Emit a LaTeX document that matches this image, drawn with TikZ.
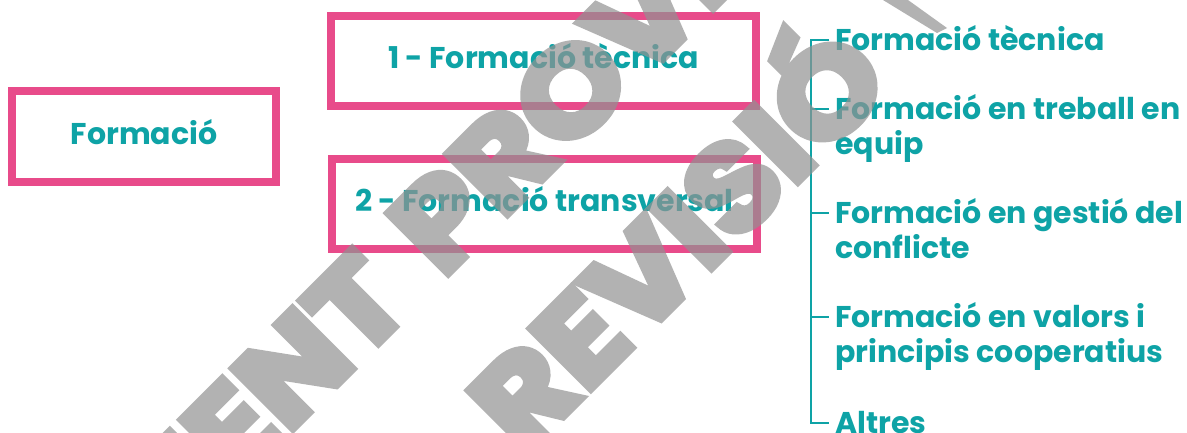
\documentclass[tikz,border=0pt]{standalone}
\usepackage{fontspec}
\setmainfont{Poppins}
\newfontfamily\wmfont{Poppins Bold}[FakeBold=6]
\usetikzlibrary{calc}
\pgfdeclarelayer{background}
\pgfsetlayers{background,main}
\definecolor{pinkc}{RGB}{232,75,138}
\definecolor{tealc}{RGB}{14,163,166}
\definecolor{wmgray}{RGB}{146,146,146}
\begin{document}
\begin{tikzpicture}[x=1pt,y=-1pt,
  box/.style={draw=pinkc, line width=8pt, text=tealc, font=\bfseries\fontsize{30}{36}\selectfont, text height=21pt, text depth=6pt, inner sep=0pt},
  conn/.style={draw=tealc, line width=2.5pt},
  item/.style={anchor=base west, text=tealc, font=\bfseries\fontsize{30}{35}\selectfont, align=left, inner sep=0pt},
  wm/.style={text=wmgray, font=\wmfont\fontsize{122}{122}\selectfont, rotate=45, xscale=1.1, inner sep=0pt}]
\useasboundingbox (0,0) rectangle (1187,432);
\clip (0,0) rectangle (1187,432);
\fill[white] (0,0) rectangle (1187,432);
% boxes
\node[box, minimum width=264pt, minimum height=91pt] (form) at (144,136.5) {Formació};
\node[box, minimum width=425pt, minimum height=90pt] (box1) at (543.5,61) {1 - Formació tècnica};
\node[box, minimum width=425pt, minimum height=90pt] (box2) at (544.5,204) {2 - Formació transversal};
% connectors
\coordinate (j1) at (302,136.5);
\coordinate (b2l) at ($(box2.west)+(0,-4)$);
\coordinate (b2r) at ($(box2.east)+(0,9)$);
\coordinate (t1) at (811,40);
\coordinate (t2) at (811,109);
\coordinate (t3) at (811,213);
\coordinate (t4) at (811,317);
\coordinate (t5) at (811,423);
\begin{pgfonlayer}{background}
\draw[conn] (form.east) -- (j1);
\draw[conn] (box1.west) -| (j1) |- (b2l);
\draw[conn] (b2r) -- (t3);
\end{pgfonlayer}
\draw[conn] ($(t1)+(18,0)$) -- (t1) -- (t5) -- ($(t5)+(18,0)$);
\draw[conn] (t2) -- ++(18,0);
\draw[conn] (t3) -- ++(18,0);
\draw[conn] (t4) -- ++(18,0);
% items (base anchor = last line)
\node[item] (i1) at ($(t1)+(24,10.5)$) {Formació tècnica};
\node[item] (i2) at ($(t2)+(24,45.5)$) {Formació en treball en\\equip};
\node[item] (i3) at ($(t3)+(24,45.5)$) {Formació en gestió del\\conflicte};
\node[item] (i4) at ($(t4)+(24,45.5)$) {Formació en valors i\\principis cooperatius};
\node[item] (i5) at ($(t5)+(24,10.5)$) {Altres};
% watermark
\begin{scope}[transparency group, opacity=0.7]
\node[wm, anchor=base east] (wmA1) at (415,307) {DOCUMENT};
\node[wm, anchor=base west] (wmA2) at (442.5,279.5) {PROVISIONAL};
\node[wm, anchor=base east] (wmB) at (895,85) {REVISIÓ};
\fill[wmgray] (883,0) -- (908,0) -- (947,28) -- (937,33) -- cycle;
\end{scope}
\end{tikzpicture}
\end{document}
